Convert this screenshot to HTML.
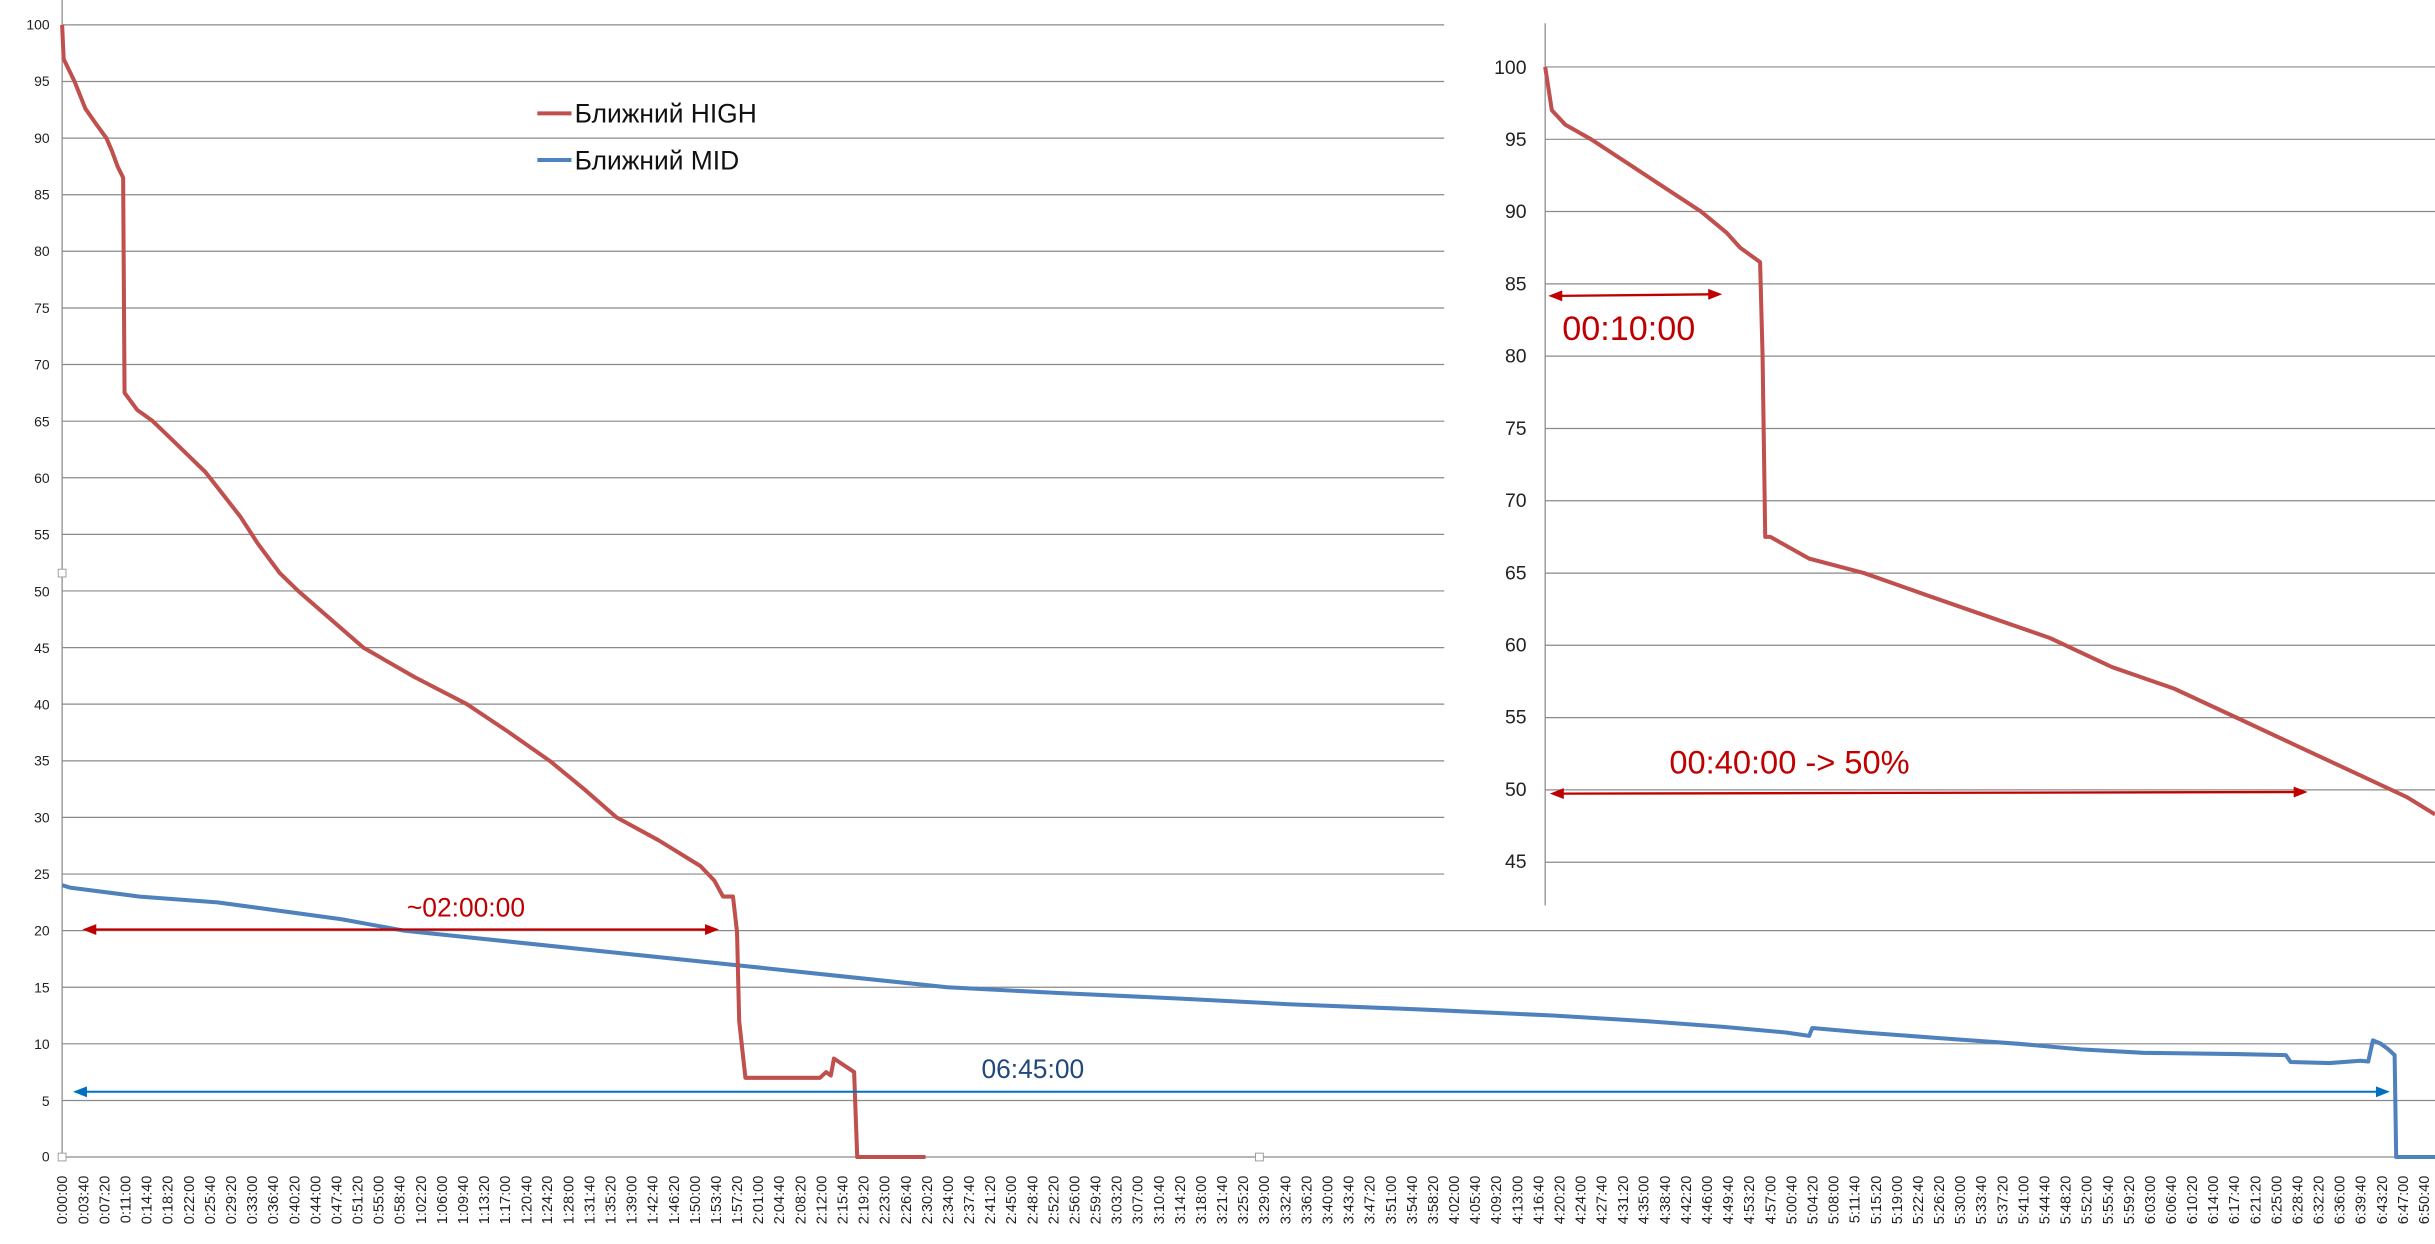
<!DOCTYPE html>
<html><head><meta charset="utf-8"><style>
html,body{margin:0;padding:0;background:#fff;}
svg{display:block;}
text{font-family:"Liberation Sans",sans-serif;}
</style></head><body>
<svg width="2435" height="1244" viewBox="0 0 1568 801" preserveAspectRatio="none" xmlns="http://www.w3.org/2000/svg">
<rect width="1568" height="801" fill="#fff"/>
<g stroke="#8a8a8a" stroke-width="0.8">
<line x1="40" y1="16" x2="1568" y2="16"/><line x1="40" y1="52.5" x2="1568" y2="52.5"/><line x1="40" y1="88.9" x2="1568" y2="88.9"/><line x1="40" y1="125.4" x2="1568" y2="125.4"/><line x1="40" y1="161.8" x2="1568" y2="161.8"/><line x1="40" y1="198.3" x2="1568" y2="198.3"/><line x1="40" y1="234.7" x2="1568" y2="234.7"/><line x1="40" y1="271.2" x2="1568" y2="271.2"/><line x1="40" y1="307.6" x2="1568" y2="307.6"/><line x1="40" y1="344.1" x2="1568" y2="344.1"/><line x1="40" y1="380.5" x2="1568" y2="380.5"/><line x1="40" y1="417" x2="1568" y2="417"/><line x1="40" y1="453.4" x2="1568" y2="453.4"/><line x1="40" y1="489.9" x2="1568" y2="489.9"/><line x1="40" y1="526.3" x2="1568" y2="526.3"/><line x1="40" y1="562.8" x2="1568" y2="562.8"/><line x1="40" y1="599.2" x2="1568" y2="599.2"/><line x1="40" y1="635.7" x2="1568" y2="635.7"/><line x1="40" y1="672.1" x2="1568" y2="672.1"/><line x1="40" y1="708.6" x2="1568" y2="708.6"/><line x1="40" y1="745" x2="1568" y2="745"/>
<line x1="40" y1="0" x2="40" y2="745"/>
</g>
<g font-size="9" fill="#222" text-anchor="end">
<text x="32" y="19">100</text><text x="32" y="55.5">95</text><text x="32" y="92">90</text><text x="32" y="128.5">85</text><text x="32" y="165">80</text><text x="32" y="201.5">75</text><text x="32" y="238">70</text><text x="32" y="274.5">65</text><text x="32" y="311">60</text><text x="32" y="347.5">55</text><text x="32" y="384">50</text><text x="32" y="420.5">45</text><text x="32" y="457">40</text><text x="32" y="493">35</text><text x="32" y="529.5">30</text><text x="32" y="566">25</text><text x="32" y="602.5">20</text><text x="32" y="639">15</text><text x="32" y="675.5">10</text><text x="32" y="712">5</text><text x="32" y="748">0</text>
</g>
<polyline fill="none" stroke="#4f81bd" stroke-width="2.6" stroke-linejoin="round" points="40,570 45,571.5 90,577.3 140,581 220,591.9 260,599.2 330,606.5 400,613.8 470,621 540,628.4 610,635.7 680,639.3 760,643 830,646.6 920,650.2 1000,653.9 1060,657.5 1110,661.2 1150,664.8 1165,667 1167,661.9 1200,664.8 1250,668.5 1300,672.1 1340,675.7 1380,677.9 1440,678.7 1472,679.4 1475,683.8 1500,684.5 1520,683 1525,683.5 1528,669.9 1533,672 1538,675.7 1542,679.4 1543,745 1568,745"/>
<polyline fill="none" stroke="#c0504d" stroke-width="2.6" stroke-linejoin="round" points="40,16 41,38 48,52.5 55,70 62,80 68.5,88.9 72,97 75.7,107.1 79.3,114.4 80.2,252.9 88.3,263.9 98.3,271.1 109.6,282 121,293 132.3,304 143.7,318.5 155,333 166,350 180,368.8 192,380.5 234,417 267,436 300.7,453.4 327,471 354,489.9 376,508 397,526.3 424,541 451,557.6 460,567 465.6,577.3 472,577.3 474.6,600 476,657.5 480,694 528,694 532,690.3 535,692.5 537,681.6 550,690.3 552,745 596,745"/>
<g font-size="9.4" fill="#222" text-anchor="end">
<text transform="translate(43.3,757) rotate(-90)">0:00:00</text><text transform="translate(56.9,757) rotate(-90)">0:03:40</text><text transform="translate(70.5,757) rotate(-90)">0:07:20</text><text transform="translate(84.1,757) rotate(-90)">0:11:00</text><text transform="translate(97.6,757) rotate(-90)">0:14:40</text><text transform="translate(111.2,757) rotate(-90)">0:18:20</text><text transform="translate(124.8,757) rotate(-90)">0:22:00</text><text transform="translate(138.4,757) rotate(-90)">0:25:40</text><text transform="translate(152,757) rotate(-90)">0:29:20</text><text transform="translate(165.5,757) rotate(-90)">0:33:00</text><text transform="translate(179.1,757) rotate(-90)">0:36:40</text><text transform="translate(192.7,757) rotate(-90)">0:40:20</text><text transform="translate(206.3,757) rotate(-90)">0:44:00</text><text transform="translate(219.9,757) rotate(-90)">0:47:40</text><text transform="translate(233.4,757) rotate(-90)">0:51:20</text><text transform="translate(247,757) rotate(-90)">0:55:00</text><text transform="translate(260.6,757) rotate(-90)">0:58:40</text><text transform="translate(274.2,757) rotate(-90)">1:02:20</text><text transform="translate(287.7,757) rotate(-90)">1:06:00</text><text transform="translate(301.3,757) rotate(-90)">1:09:40</text><text transform="translate(314.9,757) rotate(-90)">1:13:20</text><text transform="translate(328.5,757) rotate(-90)">1:17:00</text><text transform="translate(342.1,757) rotate(-90)">1:20:40</text><text transform="translate(355.6,757) rotate(-90)">1:24:20</text><text transform="translate(369.2,757) rotate(-90)">1:28:00</text><text transform="translate(382.8,757) rotate(-90)">1:31:40</text><text transform="translate(396.4,757) rotate(-90)">1:35:20</text><text transform="translate(410,757) rotate(-90)">1:39:00</text><text transform="translate(423.5,757) rotate(-90)">1:42:40</text><text transform="translate(437.1,757) rotate(-90)">1:46:20</text><text transform="translate(450.7,757) rotate(-90)">1:50:00</text><text transform="translate(464.3,757) rotate(-90)">1:53:40</text><text transform="translate(477.9,757) rotate(-90)">1:57:20</text><text transform="translate(491.4,757) rotate(-90)">2:01:00</text><text transform="translate(505,757) rotate(-90)">2:04:40</text><text transform="translate(518.6,757) rotate(-90)">2:08:20</text><text transform="translate(532.2,757) rotate(-90)">2:12:00</text><text transform="translate(545.7,757) rotate(-90)">2:15:40</text><text transform="translate(559.3,757) rotate(-90)">2:19:20</text><text transform="translate(572.9,757) rotate(-90)">2:23:00</text><text transform="translate(586.5,757) rotate(-90)">2:26:40</text><text transform="translate(600.1,757) rotate(-90)">2:30:20</text><text transform="translate(613.6,757) rotate(-90)">2:34:00</text><text transform="translate(627.2,757) rotate(-90)">2:37:40</text><text transform="translate(640.8,757) rotate(-90)">2:41:20</text><text transform="translate(654.4,757) rotate(-90)">2:45:00</text><text transform="translate(668,757) rotate(-90)">2:48:40</text><text transform="translate(681.5,757) rotate(-90)">2:52:20</text><text transform="translate(695.1,757) rotate(-90)">2:56:00</text><text transform="translate(708.7,757) rotate(-90)">2:59:40</text><text transform="translate(722.3,757) rotate(-90)">3:03:20</text><text transform="translate(735.8,757) rotate(-90)">3:07:00</text><text transform="translate(749.4,757) rotate(-90)">3:10:40</text><text transform="translate(763,757) rotate(-90)">3:14:20</text><text transform="translate(776.6,757) rotate(-90)">3:18:00</text><text transform="translate(790.2,757) rotate(-90)">3:21:40</text><text transform="translate(803.7,757) rotate(-90)">3:25:20</text><text transform="translate(817.3,757) rotate(-90)">3:29:00</text><text transform="translate(830.9,757) rotate(-90)">3:32:40</text><text transform="translate(844.5,757) rotate(-90)">3:36:20</text><text transform="translate(858.1,757) rotate(-90)">3:40:00</text><text transform="translate(871.6,757) rotate(-90)">3:43:40</text><text transform="translate(885.2,757) rotate(-90)">3:47:20</text><text transform="translate(898.8,757) rotate(-90)">3:51:00</text><text transform="translate(912.4,757) rotate(-90)">3:54:40</text><text transform="translate(926,757) rotate(-90)">3:58:20</text><text transform="translate(939.5,757) rotate(-90)">4:02:00</text><text transform="translate(953.1,757) rotate(-90)">4:05:40</text><text transform="translate(966.7,757) rotate(-90)">4:09:20</text><text transform="translate(980.3,757) rotate(-90)">4:13:00</text><text transform="translate(993.8,757) rotate(-90)">4:16:40</text><text transform="translate(1007.4,757) rotate(-90)">4:20:20</text><text transform="translate(1021,757) rotate(-90)">4:24:00</text><text transform="translate(1034.6,757) rotate(-90)">4:27:40</text><text transform="translate(1048.2,757) rotate(-90)">4:31:20</text><text transform="translate(1061.7,757) rotate(-90)">4:35:00</text><text transform="translate(1075.3,757) rotate(-90)">4:38:40</text><text transform="translate(1088.9,757) rotate(-90)">4:42:20</text><text transform="translate(1102.5,757) rotate(-90)">4:46:00</text><text transform="translate(1116.1,757) rotate(-90)">4:49:40</text><text transform="translate(1129.6,757) rotate(-90)">4:53:20</text><text transform="translate(1143.2,757) rotate(-90)">4:57:00</text><text transform="translate(1156.8,757) rotate(-90)">5:00:40</text><text transform="translate(1170.4,757) rotate(-90)">5:04:20</text><text transform="translate(1183.9,757) rotate(-90)">5:08:00</text><text transform="translate(1197.5,757) rotate(-90)">5:11:40</text><text transform="translate(1211.1,757) rotate(-90)">5:15:20</text><text transform="translate(1224.7,757) rotate(-90)">5:19:00</text><text transform="translate(1238.3,757) rotate(-90)">5:22:40</text><text transform="translate(1251.8,757) rotate(-90)">5:26:20</text><text transform="translate(1265.4,757) rotate(-90)">5:30:00</text><text transform="translate(1279,757) rotate(-90)">5:33:40</text><text transform="translate(1292.6,757) rotate(-90)">5:37:20</text><text transform="translate(1306.2,757) rotate(-90)">5:41:00</text><text transform="translate(1319.7,757) rotate(-90)">5:44:40</text><text transform="translate(1333.3,757) rotate(-90)">5:48:20</text><text transform="translate(1346.9,757) rotate(-90)">5:52:00</text><text transform="translate(1360.5,757) rotate(-90)">5:55:40</text><text transform="translate(1374.1,757) rotate(-90)">5:59:20</text><text transform="translate(1387.6,757) rotate(-90)">6:03:00</text><text transform="translate(1401.2,757) rotate(-90)">6:06:40</text><text transform="translate(1414.8,757) rotate(-90)">6:10:20</text><text transform="translate(1428.4,757) rotate(-90)">6:14:00</text><text transform="translate(1441.9,757) rotate(-90)">6:17:40</text><text transform="translate(1455.5,757) rotate(-90)">6:21:20</text><text transform="translate(1469.1,757) rotate(-90)">6:25:00</text><text transform="translate(1482.7,757) rotate(-90)">6:28:40</text><text transform="translate(1496.3,757) rotate(-90)">6:32:20</text><text transform="translate(1509.8,757) rotate(-90)">6:36:00</text><text transform="translate(1523.4,757) rotate(-90)">6:39:40</text><text transform="translate(1537,757) rotate(-90)">6:43:20</text><text transform="translate(1550.6,757) rotate(-90)">6:47:00</text><text transform="translate(1564.2,757) rotate(-90)">6:50:40</text>
</g>
<g fill="#fff" stroke="#999" stroke-width="0.6">
<rect x="37.5" y="366.5" width="5" height="5"/><rect x="37.5" y="742.5" width="5" height="5"/><rect x="808.5" y="742.5" width="5" height="5"/>
</g>
<line x1="346" y1="73" x2="368" y2="73" stroke="#c0504d" stroke-width="2.6"/>
<text x="370" y="79" font-size="17" fill="#111">Ближний HIGH</text>
<line x1="346" y1="103" x2="368" y2="103" stroke="#4f81bd" stroke-width="2.6"/>
<text x="370" y="109" font-size="17" fill="#111">Ближний MID</text>
<g fill="#c00000" stroke="#c00000">
<line x1="60" y1="598.5" x2="456" y2="598.5" stroke-width="1.5"/>
<polygon points="53,598.5 62,595 62,602" stroke="none"/><polygon points="463,598.5 454,595 454,602" stroke="none"/>
</g>
<text x="262" y="590" font-size="17" fill="#c00000">~02:00:00</text>
<g fill="#0070c0" stroke="#0070c0">
<line x1="54" y1="703" x2="1532" y2="703" stroke-width="1.3"/>
<polygon points="47,703 56,699.5 56,706.5" stroke="none"/><polygon points="1539,703 1530,699.5 1530,706.5" stroke="none"/>
</g>
<text x="632" y="694" font-size="17" fill="#1f497d">06:45:00</text>
<rect x="930" y="0" width="638" height="590" fill="#fff"/>
<g stroke="#8a8a8a" stroke-width="0.8">
<line x1="995" y1="43.1" x2="1568" y2="43.1"/><line x1="995" y1="89.7" x2="1568" y2="89.7"/><line x1="995" y1="136.2" x2="1568" y2="136.2"/><line x1="995" y1="182.8" x2="1568" y2="182.8"/><line x1="995" y1="229.3" x2="1568" y2="229.3"/><line x1="995" y1="275.9" x2="1568" y2="275.9"/><line x1="995" y1="322.4" x2="1568" y2="322.4"/><line x1="995" y1="369" x2="1568" y2="369"/><line x1="995" y1="415.5" x2="1568" y2="415.5"/><line x1="995" y1="462.1" x2="1568" y2="462.1"/><line x1="995" y1="508.6" x2="1568" y2="508.6"/><line x1="995" y1="555.2" x2="1568" y2="555.2"/>
<line x1="995" y1="15" x2="995" y2="583"/>
</g>
<g font-size="12.5" fill="#222" text-anchor="end">
<text x="983" y="47.5">100</text><text x="983" y="94">95</text><text x="983" y="140.5">90</text><text x="983" y="187">85</text><text x="983" y="233.5">80</text><text x="983" y="280">75</text><text x="983" y="326.5">70</text><text x="983" y="373">65</text><text x="983" y="419.5">60</text><text x="983" y="466">55</text><text x="983" y="512.5">50</text><text x="983" y="559">45</text>
</g>
<polyline fill="none" stroke="#c0504d" stroke-width="2.6" stroke-linejoin="round" points="995,43.1 999.3,71 1008,80.3 1024.6,89.7 1060,113 1095.4,136.2 1112,150 1120.6,159.5 1133.4,168.8 1135,229.3 1136.7,345.7 1140,345.7 1165,359.7 1200.3,369 1240,383 1280,396.9 1320,410.8 1360,429.5 1400,443.4 1440,462 1480,480.7 1520,499.3 1550,513.3 1568,524.4"/>
<g fill="#c00000" stroke="#c00000">
<line x1="1004" y1="190.5" x2="1102" y2="189.5" stroke-width="1.5"/>
<polygon points="997,190.5 1006,187 1006,194" stroke="none"/><polygon points="1109,189.5 1100,186 1100,193" stroke="none"/>
<line x1="1006" y1="511" x2="1478" y2="510" stroke-width="1.5"/>
<polygon points="998,511 1007,507.5 1007,514.5" stroke="none"/><polygon points="1486,510 1477,506.5 1477,513.5" stroke="none"/>
</g>
<text x="1006" y="219" font-size="22" fill="#c00000">00:10:00</text>
<text x="1075" y="498" font-size="21" fill="#c00000">00:40:00 -&gt; 50%</text>
</svg>
</body></html>
